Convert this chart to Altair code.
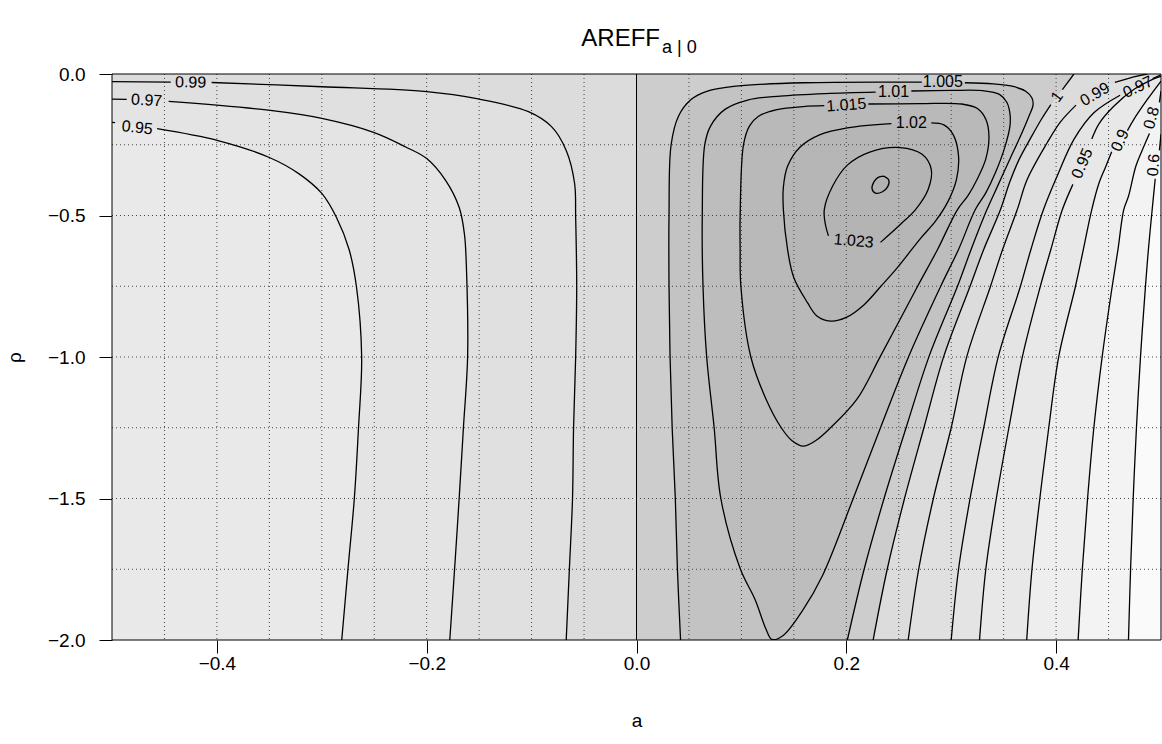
import altair as alt
import pandas as pd

FONT = "Liberation Sans"
W, H = 1049, 566

# ---------------- axis / grid values ----------------
x_ticks = [-0.4, -0.2, 0.0, 0.2, 0.4]
y_ticks = [0.0, -0.5, -1.0, -1.5, -2.0]
grid_a = [-0.45, -0.4, -0.35, -0.3, -0.25, -0.2, -0.15, -0.1, -0.05,
          0.05, 0.1, 0.15, 0.2, 0.25, 0.3, 0.35, 0.4, 0.45]
grid_rho = [-0.25, -0.5, -0.75, -1.0, -1.25, -1.5, -1.75]
zero_line = [0.0]

# ---------------- contour lines (a, rho), split where labels sit ----------------
c_095L = [[(-0.5, -0.171), (-0.497, -0.172)],
          [(-0.457, -0.193), (-0.399, -0.235), (-0.350, -0.295), (-0.322, -0.352), (-0.300, -0.422),
           (-0.286, -0.507), (-0.274, -0.620), (-0.267, -0.751), (-0.262, -1.0), (-0.265, -1.249),
           (-0.269, -1.5), (-0.275, -1.747), (-0.281, -2.0)]]
c_097L = [[(-0.5, -0.089), (-0.486, -0.090)],
          [(-0.446, -0.097), (-0.351, -0.128), (-0.300, -0.157), (-0.250, -0.207), (-0.220, -0.258),
           (-0.200, -0.299), (-0.182, -0.376), (-0.169, -0.472), (-0.164, -0.567), (-0.162, -0.70),
           (-0.161, -1.0), (-0.165, -1.25), (-0.169, -1.496), (-0.173, -1.726), (-0.178, -2.0)]]
c_099L = [[(-0.5, -0.027), (-0.444, -0.029)],
          [(-0.405, -0.030), (-0.300, -0.045), (-0.200, -0.062), (-0.151, -0.088), (-0.103, -0.133),
           (-0.081, -0.186), (-0.067, -0.270), (-0.059, -0.387), (-0.058, -0.507), (-0.057, -0.75),
           (-0.058, -1.0), (-0.060, -1.25), (-0.061, -1.5), (-0.064, -1.75), (-0.067, -2.0)]]
c_1005 = [[(0.042, -2.0), (0.039, -1.75), (0.037, -1.5), (0.034, -1.25), (0.032, -1.0), (0.031, -0.75),
           (0.031, -0.5), (0.033, -0.25), (0.040, -0.149), (0.052, -0.090), (0.067, -0.061),
           (0.095, -0.043), (0.159, -0.031), (0.272, -0.029)],
          [(0.313, -0.031), (0.340, -0.035), (0.358, -0.043), (0.371, -0.061), (0.377, -0.085),
           (0.378, -0.11), (0.374, -0.15), (0.366, -0.22), (0.356, -0.30), (0.345, -0.39),
           (0.334, -0.48), (0.319, -0.62), (0.306, -0.75), (0.279, -0.997), (0.257, -1.25),
           (0.236, -1.5), (0.217, -1.75), (0.201, -2.0)]]
c_1 = [[(0.417, 0.0), (0.406, -0.055)],
       [(0.395, -0.108), (0.386, -0.160), (0.376, -0.225), (0.365, -0.30), (0.356, -0.38),
        (0.347, -0.479), (0.331, -0.62), (0.318, -0.75), (0.293, -0.997), (0.274, -1.25),
        (0.2555, -1.5), (0.239, -1.75), (0.2256, -2.0)]]
c_099R = [[(0.487, 0.0), (0.474, -0.010), (0.456, -0.030)],
          [(0.419, -0.110), (0.404, -0.17), (0.3915, -0.243), (0.3724, -0.373), (0.363, -0.479),
           (0.349, -0.62), (0.3375, -0.75), (0.315, -0.997), (0.300, -1.25), (0.283, -1.5),
           (0.269, -1.75), (0.259, -2.0)]]
c_097R = [[(0.4995, -0.004), (0.492, -0.016)],
          [(0.461, -0.075), (0.436, -0.137), (0.417, -0.231), (0.401, -0.361), (0.388, -0.479),
           (0.376, -0.62), (0.366, -0.75), (0.345, -0.997), (0.331, -1.25), (0.318, -1.5),
           (0.307, -1.75), (0.300, -2.0)]]
c_095R = [[(0.5, -0.008), (0.493, -0.017), (0.474, -0.055), (0.455, -0.114), (0.441, -0.175),
           (0.434, -0.23)],
          [(0.416, -0.39), (0.406, -0.479), (0.395, -0.62), (0.385, -0.75), (0.368, -0.997),
           (0.355, -1.25), (0.343, -1.5), (0.333, -1.75), (0.327, -2.0)]]
c_09 = [[(0.5, -0.025), (0.487, -0.090), (0.474, -0.161), (0.468, -0.200)],
        [(0.453, -0.275), (0.447, -0.33), (0.441, -0.384), (0.434, -0.479), (0.426, -0.62),
         (0.4185, -0.75), (0.4026, -0.997), (0.393, -1.25), (0.3845, -1.5), (0.377, -1.75),
         (0.372, -2.0)]]
c_08 = [[(0.5, -0.06), (0.4985, -0.10)],
        [(0.489, -0.21), (0.482, -0.27), (0.476, -0.326), (0.469, -0.432), (0.4645, -0.479),
         (0.459, -0.62), (0.4535, -0.75), (0.444, -0.997), (0.436, -1.25), (0.430, -1.5),
         (0.425, -1.75), (0.421, -2.0)]]
c_06 = [[(0.5, -0.212), (0.4985, -0.27)],
        [(0.4945, -0.37), (0.4916, -0.479), (0.488, -0.62), (0.4852, -0.75), (0.4805, -0.997),
         (0.4766, -1.25), (0.4735, -1.5), (0.471, -1.75), (0.469, -2.0)]]
c_101 = [[(0.262, -0.060), (0.300, -0.058), (0.330, -0.059), (0.346, -0.072), (0.353, -0.10),
          (0.356, -0.14), (0.356, -0.184), (0.351, -0.26), (0.342, -0.35), (0.333, -0.42),
          (0.323, -0.479), (0.307, -0.62), (0.290, -0.75), (0.2596, -0.997), (0.2326, -1.25),
          (0.2066, -1.5), (0.177, -1.775), (0.159, -1.892), (0.1395, -1.985), (0.129, -1.998),
          (0.1236, -1.963), (0.113, -1.857), (0.0988, -1.747), (0.0804, -1.5), (0.074, -1.249),
          (0.0669, -1.0), (0.0634, -0.751), (0.0627, -0.5), (0.0651, -0.249), (0.0706, -0.184),
          (0.0843, -0.125), (0.106, -0.092), (0.137, -0.078), (0.180, -0.069), (0.228, -0.064)]]
c_1015 = [[(0.221, -0.106), (0.270, -0.105), (0.310, -0.106), (0.325, -0.122), (0.333, -0.16),
           (0.336, -0.22), (0.333, -0.30), (0.325, -0.37), (0.316, -0.43), (0.306, -0.479),
           (0.287, -0.62), (0.268, -0.75), (0.2326, -0.997), (0.210, -1.15), (0.185, -1.25),
           (0.171, -1.295), (0.159, -1.315), (0.148, -1.295), (0.138, -1.25), (0.1236, -1.15),
           (0.109, -1.0), (0.0995, -0.75), (0.0988, -0.62), (0.0988, -0.5), (0.102, -0.25),
           (0.1076, -0.184), (0.116, -0.150), (0.134, -0.126), (0.159, -0.115), (0.179, -0.112)]]
c_102 = [[(0.281, -0.173), (0.293, -0.180), (0.302, -0.215), (0.307, -0.29), (0.305, -0.373),
          (0.297, -0.45), (0.285, -0.52), (0.271, -0.58), (0.2485, -0.685), (0.233, -0.75),
          (0.217, -0.815), (0.200, -0.860), (0.185, -0.873), (0.172, -0.855), (0.163, -0.808),
          (0.150, -0.72), (0.144, -0.62), (0.140, -0.479), (0.140, -0.40), (0.144, -0.326),
          (0.156, -0.258), (0.175, -0.214), (0.201, -0.190), (0.243, -0.175)]]
c_1023 = [[(0.2326, -0.595), (0.252, -0.53), (0.266, -0.479), (0.278, -0.408), (0.281, -0.337),
           (0.272, -0.283), (0.251, -0.260), (0.223, -0.275), (0.201, -0.322), (0.187, -0.396),
           (0.179, -0.479), (0.180, -0.53), (0.183, -0.572)]]
c_top = [[(0.2357, -0.361), (0.2405, -0.375), (0.2395, -0.398), (0.2345, -0.416), (0.2278, -0.421),
          (0.2245, -0.405), (0.2262, -0.382), (0.2300, -0.366), (0.2357, -0.361)]]

contours = {"0.95L": c_095L, "0.97L": c_097L, "0.99L": c_099L, "1.005": c_1005, "1": c_1,
            "0.99R": c_099R, "0.97R": c_097R, "0.95R": c_095R, "0.9": c_09, "0.8": c_08,
            "0.6": c_06, "1.01": c_101, "1.015": c_1015, "1.02": c_102, "1.023": c_1023,
            "top": c_top}

# ---------------- contour labels ----------------
label_text = ["0.99", "0.97", "0.95", "1.005", "1.01", "1.015", "1.02", "1.023",
              "1", "0.99", "0.97", "0.95", "0.9", "0.8", "0.6"]
label_a = [-0.425, -0.467, -0.476, 0.292, 0.245, 0.200, 0.262, 0.207,
           0.401, 0.437, 0.478, 0.425, 0.461, 0.491, 0.493]
label_rho = [-0.030, -0.093, -0.190, -0.030, -0.062, -0.110, -0.173, -0.590,
             -0.080, -0.072, -0.046, -0.316, -0.235, -0.155, -0.322]
label_angle = [1, 3, 6, 0, 0, 356, 0, 5, 306, 330, 335, 293, 295, 285, 275]


def flat(segs):
    return [p for s in segs for p in s]


# shaded regions built from the contours (painter's order), shades are styles
regions = [
    ("lt099L", flat(c_099L) + [(-0.5, -2.0)], "#e0e0e0"),
    ("lt097L", flat(c_097L) + [(-0.5, -2.0)], "#e4e4e4"),
    ("lt095L", flat(c_095L) + [(-0.5, -2.0)], "#e9e9e9"),
    ("gt1", [(0.0, 0.0)] + flat(c_1) + [(0.0, -2.0)], "#cdcdcd"),
    ("gt1005", flat(c_1005), "#c3c3c3"),
    ("gt101", flat(c_101), "#bdbdbd"),
    ("gt1015", flat(c_1015), "#b9b9b9"),
    ("gt102", flat(c_102), "#b6b6b6"),
    ("gt1023", flat(c_1023), "#b4b4b4"),
    ("gttop", flat(c_top), "#b2b2b2"),
    ("lt099R", flat(c_099R) + [(0.5, -2.0), (0.5, 0.0)], "#e0e0e0"),
    ("lt097R", flat(c_097R) + [(0.5, -2.0)], "#e4e4e4"),
    ("lt095R", flat(c_095R) + [(0.5, -2.0)], "#e8e8e8"),
    ("lt09", flat(c_09) + [(0.5, -2.0)], "#eeeeee"),
    ("lt08", flat(c_08) + [(0.5, -2.0)], "#f3f3f3"),
    ("lt06", flat(c_06) + [(0.5, -2.0)], "#fafafa"),
]

# ---------------- scales / axes ----------------
xscale = alt.Scale(domain=[-0.5, 0.5], nice=False, zero=False)
yscale = alt.Scale(domain=[-2.0, 0.0], nice=False, zero=False)
minus_expr = "replace(format(datum.value, '.1f'), '-', '\u2212')"
xaxis = alt.Axis(values=x_ticks, labelExpr=minus_expr, domain=False, grid=False,
                 tickSize=13, tickColor="black", tickWidth=1,
                 labelFont=FONT, labelFontSize=19, labelColor="black", labelPadding=1,
                 labelFlush=False, labelOverlap=False,
                 title="a", titleFont=FONT, titleFontSize=19, titleFontWeight="normal",
                 titleColor="black", titleY=80, titleBaseline="middle")
yaxis = alt.Axis(values=y_ticks, labelExpr=minus_expr, domain=False, grid=False,
                 tickSize=13, tickColor="black", tickWidth=1,
                 labelFont=FONT, labelFontSize=19, labelColor="black", labelPadding=14,
                 labelFlush=False, labelOverlap=False,
                 title="\u03c1", titleFont=FONT, titleFontSize=19, titleFontWeight="normal",
                 titleColor="black", titleAngle=270, titleX=-98, titleY=283,
                 titleAlign="center", titleBaseline="middle")


def X(**kw):
    return alt.X("a:Q", scale=xscale, axis=xaxis, **kw)


def Y(**kw):
    return alt.Y("rho:Q", scale=yscale, axis=yaxis, **kw)


layers = []

for name, pts, shade in regions:
    df = pd.DataFrame({"a": [p[0] for p in pts], "rho": [p[1] for p in pts],
                       "i": list(range(len(pts)))})
    layers.append(alt.Chart(df).mark_line(fill=shade, strokeOpacity=0, clip=True).encode(
        x=X(), y=Y(), order="i:Q"))

grid_v = alt.Chart(pd.DataFrame({"a": grid_a})).mark_rule(
    color="#444444", strokeWidth=1, strokeDash=[1, 3]).encode(x=X())
grid_h = alt.Chart(pd.DataFrame({"rho": grid_rho})).mark_rule(
    color="#444444", strokeWidth=1, strokeDash=[1, 3]).encode(y=Y())
zero = alt.Chart(pd.DataFrame({"a": zero_line})).mark_rule(
    color="black", strokeWidth=1).encode(x=X())
layers += [grid_v, grid_h, zero]

rows = []
for lvl, segs in contours.items():
    for si, seg in enumerate(segs):
        for i, (a, r) in enumerate(seg):
            rows.append({"seg": f"{lvl}-{si}", "i": i, "a": a, "rho": r})
lines = alt.Chart(pd.DataFrame(rows)).mark_line(
    color="black", strokeWidth=1.3, clip=True, interpolate="catmull-rom").encode(
    x=X(), y=Y(), detail="seg:N", order="i:Q")
layers.append(lines)

lab_df = pd.DataFrame({"a": label_a, "rho": label_rho, "t": label_text, "ang": label_angle})
labels = alt.Chart(lab_df).mark_text(font=FONT, fontSize=16, color="black",
                                     baseline="middle", align="center").encode(
    x=X(), y=Y(), text="t:N", angle=alt.Angle("ang:Q", scale=None))
layers.append(labels)

frame = alt.Chart(pd.DataFrame({"k": [0]})).mark_rect(
    fillOpacity=0, stroke="black", strokeWidth=1).encode(
    x=alt.X(datum=-0.5, scale=xscale, axis=xaxis), x2=alt.datum(0.5),
    y=alt.Y(datum=0.0, scale=yscale, axis=yaxis), y2=alt.datum(-2.0))
layers.append(frame)

title_main = alt.Chart(pd.DataFrame({"k": [0]})).mark_text(
    text="AREFF", font=FONT, fontSize=24, color="black", align="right",
    baseline="alphabetic").encode(x=alt.value(548), y=alt.value(-28))
title_sub = alt.Chart(pd.DataFrame({"k": [0]})).mark_text(
    text="a | 0", font=FONT, fontSize=18, color="black", align="left",
    baseline="alphabetic").encode(x=alt.value(550), y=alt.value(-21))
layers += [title_main, title_sub]

chart = alt.layer(*layers).properties(
    width=W, height=H,
    padding={"left": 112, "top": 74, "right": 1, "bottom": 104},
    autosize=alt.AutoSizeParams(type="none"),
).configure_view(strokeWidth=0, fill="#dcdcdc")

chart.save("out.html", embed_options={"renderer": "svg", "actions": False})
